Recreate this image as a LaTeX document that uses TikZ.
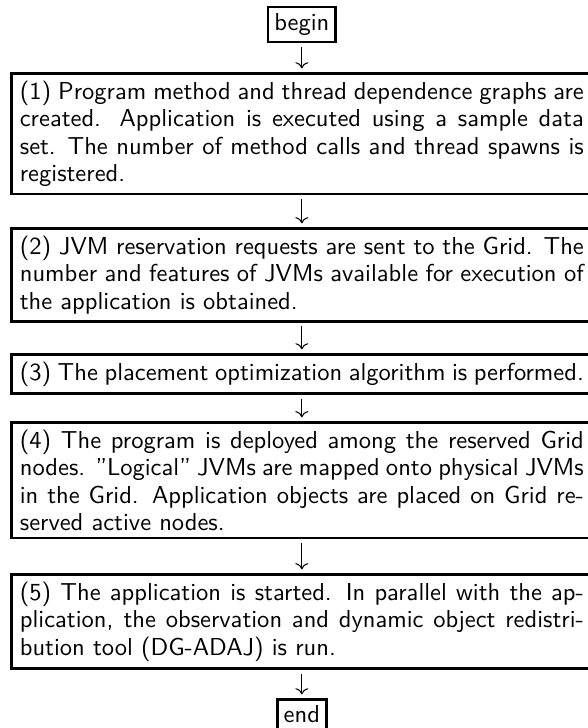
\documentclass[tikz,border=0pt]{standalone}
\usepackage{fontspec}
\usetikzlibrary{arrows.meta,calc}
\nonfrenchspacing
\tikzset{
  stepbox/.style={draw, line width=1.1pt, text width=230pt, align=justify,
    inner xsep=3.4pt, inner ysep=3pt, anchor=north,
    font=\sffamily\fontsize{10pt}{11.2pt}\selectfont},
  termbox/.style={draw, line width=1.1pt, inner sep=2.6pt, font=\sffamily},
  flow/.style={-{To}, line width=0.42pt, shorten <=1.5pt, shorten >=1.5pt}
}
\begin{document}
\begin{tikzpicture}
\useasboundingbox (0,0) rectangle (239.4pt,-296.9pt);

\node[termbox] (begin) at (123.1pt,-10.0pt) {begin};

\node[stepbox] (s1) at (123.1pt,-29.4pt) {(1) Program method and thread dependence graphs are created. Application is executed using a sample data set. The number of method calls and thread spawns is registered.};

\node[stepbox] (s2) at (123.1pt,-92.6pt) {(2) JVM reservation requests are sent to the Grid. The number and features of JVMs available for execution of the application is obtained.};

\node[stepbox] (s3) at (123.1pt,-144.0pt) {(3) The placement optimization algorithm is performed.};

\node[stepbox] (s4) at (123.1pt,-171.7pt) {(4) The program is deployed among the reserved Grid nodes. \textquotedblright Logical\textquotedblright{} JVMs are mapped onto physical JVMs in the Grid. Application objects are placed on Grid reserved active nodes.};

\node[stepbox] (s5) at (123.1pt,-233.7pt) {(5) The application is started. In parallel with the application, the observation and dynamic object redistribution tool (DG-ADAJ) is run.};

\node[termbox, anchor=north] (end) at (123.1pt,-284.7pt) {end};

\draw[flow] (begin.south) -- (s1.north -| begin.south);
\draw[flow] (s1.south) -- (s2.north);
\draw[flow] (s2.south) -- (s3.north);
\draw[flow] (s3.south) -- (s4.north);
\draw[flow] (s4.south) -- (s5.north);
\draw[flow] (s5.south) -- (end.north);
\end{tikzpicture}
\end{document}
